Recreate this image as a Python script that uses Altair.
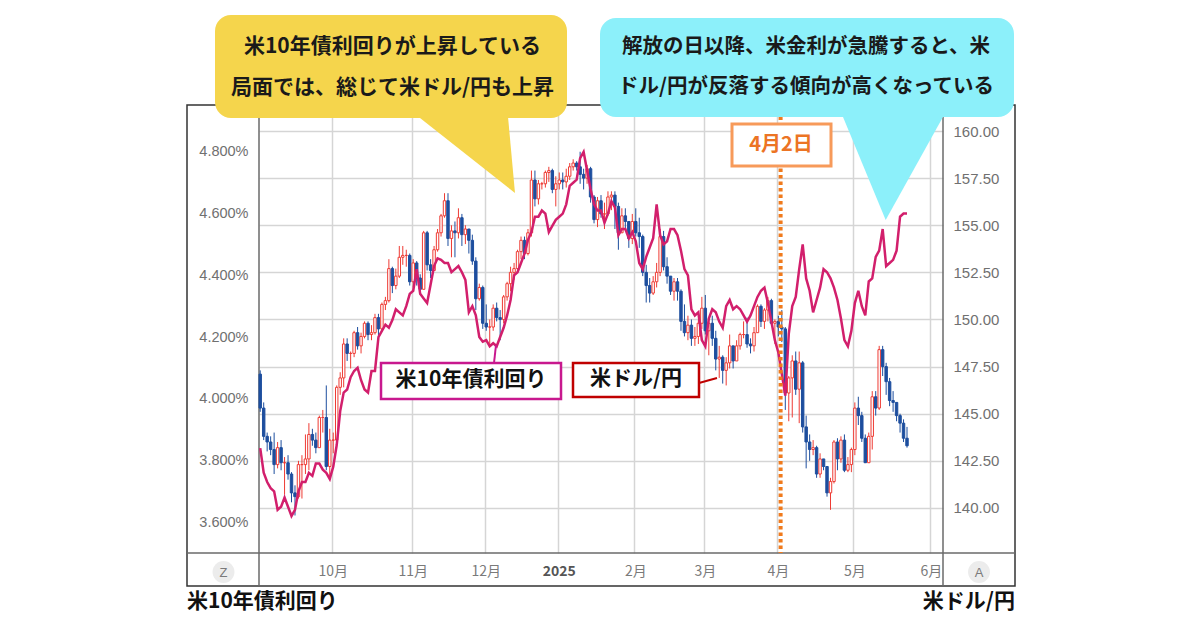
import altair as alt
import pandas as pd
import numpy as np

# ---------------- data ----------------
jpy_first_open = 147.1
jpy_close = [
    145.3, 143.8, 143.5, 143.1, 142.3, 143.2, 142.4, 142.4, 141.8, 140.8,
    140.6, 142.3, 142.3, 142.6, 143.9, 143.6, 143.2, 144.8, 144.8, 142.2,
    143.6, 143.6, 146.4, 146.9, 148.7, 148.2, 148.2, 149.3, 148.6, 149.1,
    149.8, 149.2, 149.3, 150.1, 149.5, 150.8, 151.0, 152.7, 151.8, 152.3,
    153.3, 153.4, 153.4, 152.0, 153.0, 152.2, 151.6, 154.6, 152.9, 152.6,
    153.7, 154.6, 155.5, 156.3, 154.3, 154.7, 154.6, 155.4, 154.5, 154.8,
    154.2, 153.1, 151.1, 151.7, 149.8, 149.6, 149.6, 150.6, 150.1, 150.0,
    151.2, 151.9, 152.5, 152.7, 153.6, 154.2, 153.5, 154.6, 157.4, 156.4,
    157.2, 157.2, 157.8, 157.9, 156.9, 157.2, 157.4, 157.3, 157.6, 158.1,
    158.3, 158.1, 157.7, 157.5, 158.0, 156.5, 155.3, 156.3, 155.6, 155.6,
    156.5, 156.6, 156.0, 154.6, 155.5, 155.2, 154.3, 155.2, 154.6, 154.4,
    152.5, 151.8, 151.4, 152.0, 152.5, 154.4, 152.8, 152.3, 151.5, 152.0,
    151.5, 149.9, 149.3, 149.7, 149.0, 149.1, 149.8, 150.6, 149.4, 149.8,
    149.0, 147.9, 148.0, 147.3, 147.7, 148.6, 147.8, 148.6, 149.2, 149.2,
    148.7, 148.6, 149.3, 150.7, 149.9, 150.5, 151.0, 149.8, 149.9, 149.6,
    149.5, 146.1, 146.9, 147.8, 146.3, 147.7, 144.3, 143.5, 143.1, 143.2,
    141.8, 142.6, 142.2, 140.8, 141.4, 143.5, 142.6, 143.6, 142.0, 142.3,
    143.1, 145.3, 144.9, 143.7, 142.4, 143.8, 145.9, 145.3, 148.4, 147.5,
    146.7, 145.7, 145.6, 144.9, 144.5, 143.7, 143.3,
]
jpy_high = [
    147.3, 145.6, 144.0, 143.8, 144.0, 143.5, 143.6, 142.7, 142.8, 141.9,
    141.2, 142.5, 142.8, 143.9, 144.5, 144.2, 144.0, 144.9, 145.2, 146.5,
    144.2, 144.0, 146.5, 147.2, 149.0, 149.0, 148.3, 149.4, 149.6, 149.3,
    149.9, 149.9, 149.7, 150.3, 150.3, 150.9, 151.2, 153.2, 152.8, 152.7,
    153.9, 153.9, 153.7, 153.5, 153.2, 153.1, 152.4, 154.7, 154.7, 153.2,
    153.9, 154.8, 155.6, 156.7, 156.7, 155.0, 155.2, 155.9, 155.6, 155.0,
    154.8, 154.5, 153.3, 151.9, 151.8, 150.8, 150.0, 150.8, 150.9, 150.5,
    151.3, 152.0, 152.8, 153.0, 153.7, 154.4, 154.4, 154.8, 157.9, 157.9,
    157.4, 157.3, 157.9, 158.1, 158.0, 157.6, 157.8, 157.8, 158.0, 158.3,
    158.5, 158.4, 158.9, 158.0, 158.2, 158.1, 156.6, 156.5, 156.6, 156.2,
    156.8, 156.8, 156.8, 156.2, 155.9, 155.9, 155.2, 155.6, 155.9, 155.4,
    154.5, 152.9, 152.2, 152.3, 153.0, 154.8, 154.7, 153.3, 152.3, 152.2,
    152.2, 151.6, 150.8, 150.2, 150.0, 149.6, 150.0, 151.2, 151.3, 150.0,
    150.2, 149.4, 148.6, 148.1, 148.0, 149.2, 148.6, 148.9, 149.3, 149.9,
    150.1, 149.0, 149.6, 150.8, 150.8, 150.6, 151.2, 151.1, 150.0, 150.2,
    150.5, 149.6, 147.0, 148.1, 148.3, 148.3, 147.8, 144.9, 143.9, 143.6,
    143.3, 142.9, 142.6, 142.2, 141.6, 143.6, 143.7, 143.8, 143.9, 142.7,
    143.2, 145.6, 145.9, 145.1, 143.9, 144.0, 146.2, 146.2, 148.6, 148.6,
    147.7, 146.9, 146.2, 145.6, 145.0, 144.7, 144.3,
]
jpy_low = [
    145.1, 143.6, 143.0, 142.8, 141.8, 142.1, 142.0, 140.7, 141.5, 140.3,
    139.6, 140.5, 140.5, 141.8, 142.0, 143.3, 142.9, 143.2, 144.0, 142.0,
    141.7, 142.9, 143.4, 146.0, 146.4, 147.8, 147.4, 148.0, 148.4, 148.2,
    149.0, 148.9, 148.9, 149.2, 149.1, 149.4, 150.5, 150.9, 151.4, 151.6,
    152.2, 152.9, 152.8, 151.8, 151.7, 151.8, 151.3, 151.6, 152.6, 152.2,
    152.6, 153.6, 154.4, 155.4, 153.9, 153.3, 153.3, 154.3, 153.9, 154.0,
    153.5, 152.9, 150.5, 151.0, 149.5, 149.4, 148.6, 149.4, 149.9, 148.9,
    149.8, 151.0, 151.5, 152.1, 152.5, 153.2, 153.2, 153.4, 154.4, 156.0,
    156.1, 156.9, 157.0, 157.3, 156.7, 156.0, 156.9, 156.9, 157.0, 157.4,
    157.9, 157.9, 157.2, 156.9, 157.2, 156.2, 155.1, 154.9, 155.4, 154.8,
    155.5, 155.8, 154.8, 153.7, 154.6, 154.8, 153.8, 154.0, 154.4, 153.8,
    152.3, 150.9, 150.9, 151.3, 151.7, 152.3, 152.6, 151.9, 151.3, 151.0,
    151.0, 149.4, 149.1, 148.9, 148.6, 148.6, 148.7, 149.5, 149.2, 148.1,
    148.6, 147.3, 146.9, 146.6, 146.5, 147.4, 147.4, 147.8, 148.4, 149.0,
    148.5, 148.2, 148.3, 149.3, 149.6, 149.5, 149.9, 149.7, 148.7, 149.1,
    148.8, 145.2, 144.6, 144.8, 146.0, 144.5, 144.0, 142.1, 142.5, 142.8,
    141.6, 141.6, 142.0, 140.6, 139.9, 141.3, 142.0, 142.4, 141.9, 141.9,
    141.9, 142.8, 144.4, 143.5, 142.4, 142.4, 143.1, 144.9, 145.2, 147.0,
    146.0, 145.4, 145.1, 144.6, 144.0, 143.5, 143.2,
]
us10y_yield = [
    3.84, 3.76, 3.73, 3.71, 3.70, 3.64, 3.65, 3.68, 3.65, 3.62,
    3.64, 3.70, 3.73, 3.73, 3.76, 3.75, 3.79, 3.79, 3.77, 3.76,
    3.74, 3.78, 3.85, 3.96, 4.02, 4.03, 4.07, 4.09, 4.10, 4.06,
    4.03, 4.02, 4.09, 4.09, 4.20, 4.22, 4.24, 4.23, 4.255, 4.29,
    4.28, 4.27, 4.30, 4.34, 4.35, 4.42, 4.34, 4.325, 4.31, 4.37,
    4.43, 4.455, 4.45, 4.44, 4.44, 4.41, 4.42, 4.43, 4.41, 4.385,
    4.28, 4.30, 4.27, 4.20, 4.185, 4.19, 4.17, 4.18, 4.17, 4.20,
    4.23, 4.27, 4.32, 4.40, 4.41, 4.44, 4.47, 4.515, 4.54, 4.59,
    4.59, 4.61, 4.60, 4.54, 4.56, 4.58, 4.59, 4.60, 4.63, 4.69,
    4.70, 4.71, 4.78, 4.80, 4.74, 4.68, 4.63, 4.61, 4.61, 4.57,
    4.60, 4.64, 4.62, 4.53, 4.55, 4.55, 4.52, 4.54, 4.51, 4.44,
    4.42, 4.46, 4.49, 4.52, 4.63, 4.53, 4.50, 4.51, 4.55, 4.55,
    4.53, 4.48, 4.42, 4.40, 4.29, 4.27, 4.28, 4.19, 4.17, 4.26,
    4.29, 4.28, 4.25, 4.23, 4.30, 4.32, 4.29, 4.30, 4.29, 4.27,
    4.25, 4.27, 4.30, 4.33, 4.35, 4.36, 4.31, 4.25, 4.19, 4.15,
    4.08, 4.01, 4.21, 4.30, 4.33, 4.42, 4.50, 4.39, 4.35, 4.28,
    4.32, 4.36, 4.42, 4.41, 4.39, 4.36, 4.32, 4.26, 4.19, 4.17,
    4.22, 4.31, 4.35, 4.30, 4.27, 4.38, 4.39, 4.46, 4.48, 4.55,
    4.43, 4.44, 4.45, 4.48, 4.59, 4.60, 4.60,
]
yield_ticks = [3.6, 3.8, 4.0, 4.2, 4.4, 4.6, 4.8]
jpy_ticks = [140, 142.5, 145, 147.5, 150, 152.5, 155, 157.5, 160]
holidays = ["2024-12-25", "2025-01-01"]
event_day = ["2025-04-02"]

bubble_yellow = ["米10年債利回りが上昇している", "局面では、総じて米ドル/円も上昇"]
bubble_cyan = ["解放の日以降、米金利が急騰すると、米", "ドル/円が反落する傾向が高くなっている"]

# ---------------- tables ----------------
all_days = [d.strftime("%Y-%m-%d") for d in pd.bdate_range("2024-09-02", "2025-06-05")]
all_days = [d for d in all_days if d not in holidays]
data_days = all_days[:len(jpy_close)]
month_starts = []
seen = set()
for d in all_days:
    if d[:7] not in seen:
        seen.add(d[:7])
        if d >= "2024-10-01":
            month_starts.append(d)

opens = [jpy_first_open] + jpy_close[:-1]
jpy_df = pd.DataFrame({
    "date": data_days,
    "open": opens,
    "close": jpy_close,
    "high": [max(h, o, c) for h, o, c in zip(jpy_high, opens, jpy_close)],
    "low": [min(l, o, c) for l, o, c in zip(jpy_low, opens, jpy_close)],
})
jpy_df["dir"] = np.where(jpy_df["close"] >= jpy_df["open"], "up", "down")
yield_df = pd.DataFrame({"date": data_days, "yield": us10y_yield})
event_df = pd.DataFrame({"date": event_day})
one = pd.DataFrame({"k": [0]})

# ---------------- style ----------------
RED, BLUE, LINE = "#ee3b34", "#1d4e9e", "#d21f6c"
ORANGE = "#f07a1c"
GRID = "#d5d5d5"
JP = "Noto Sans CJK JP"
X0, Y0 = 259, 105      # plot-area origin on the page
W, H = 684, 448

x_scale = alt.Scale(type="band", domain=all_days, paddingInner=0.3, paddingOuter=0)
x_axis = alt.Axis(
    values=month_starts, bandPosition=0, title=None,
    labelExpr="substring(datum.value,5,7)=='01' ? '2025' : toNumber(substring(datum.value,5,7)) + '月'",
    grid=True, gridColor=GRID, gridWidth=1.5, ticks=False, domain=False,
    labelPadding=11, labelFont=JP, labelFontSize=14, labelAngle=0,
    labelColor={"condition": {"test": "substring(datum.value,5,7)=='01'", "value": "#555555"}, "value": "#7a7a7a"},
    labelFontWeight={"condition": {"test": "substring(datum.value,5,7)=='01'", "value": "bold"}, "value": "normal"},
)
X = alt.X("date:O", scale=x_scale, axis=x_axis)

jpy_scale = alt.Scale(domain=[137.61, 161.38], nice=False, zero=False)
jpy_axis = alt.Axis(orient="right", values=jpy_ticks, format=".2f", title=None,
                    grid=True, gridColor=GRID, gridWidth=1.5, ticks=False, domain=False,
                    labelPadding=10, labelFont="Liberation Sans", labelFontSize=15, labelColor="#707070")
yield_scale = alt.Scale(domain=[3.5, 4.952], nice=False, zero=False)
yield_axis = alt.Axis(orient="left", values=yield_ticks, title=None,
                      labelExpr="format(datum.value, '.3f') + '%'",
                      grid=False, ticks=False, domain=False,
                      labelPadding=11, labelFont="Liberation Sans", labelFontSize=14.5, labelColor="#707070")

stroke_scale = alt.Scale(domain=["up", "down"], range=[RED, BLUE])
fill_scale = alt.Scale(domain=["up", "down"], range=["#ffffff", BLUE])


def px(x):
    return alt.value(x - X0)


def py(y):
    return alt.value(y - Y0)


def rect(x1, y1, x2, y2, **kw):
    return alt.Chart(one).mark_rect(**kw).encode(x=px(x1), x2=px(x2), y=py(y1), y2=py(y2))


def seg(x1, y1, x2, y2, **kw):
    return alt.Chart(one).mark_rule(**kw).encode(x=px(x1), x2=px(x2), y=py(y1), y2=py(y2))


def txt(s, x, y, **kw):
    return alt.Chart(one).mark_text(text=s, baseline="middle", **kw).encode(x=px(x), y=py(y))


def tri(path, cx, cy, size, color):
    return alt.Chart(one).mark_point(shape=path, size=size, filled=True, color=color,
                                     opacity=1, strokeWidth=0).encode(x=px(cx), y=py(cy))


# ---------------- frame & axis lines ----------------
frame = rect(187, 105, 1015, 586, fill="#ffffff", fillOpacity=0, stroke="#333333", strokeWidth=1.5)
axis_lines = [
    seg(187, 553, 1015, 553, color="#6a6a6a", strokeWidth=1.5),
    seg(259, 105, 259, 586, color="#6a6a6a", strokeWidth=1.5),
    seg(943, 105, 943, 586, color="#6a6a6a", strokeWidth=1.5),
]

# ---------------- data layers ----------------
wicks = alt.Chart(jpy_df).mark_rule(strokeWidth=1).encode(
    x=X,
    y=alt.Y("low:Q", scale=jpy_scale, axis=jpy_axis),
    y2="high:Q",
    stroke=alt.Stroke("dir:N", scale=stroke_scale, legend=None),
)
bodies = alt.Chart(jpy_df).mark_bar(strokeWidth=1).encode(
    x=X,
    y=alt.Y("open:Q", scale=jpy_scale, axis=jpy_axis),
    y2="close:Q",
    fill=alt.Fill("dir:N", scale=fill_scale, legend=None),
    stroke=alt.Stroke("dir:N", scale=stroke_scale, legend=None),
)
jpy = alt.layer(wicks, bodies)

yline = alt.Chart(yield_df).mark_line(color=LINE, strokeWidth=2.5).encode(
    x=X, y=alt.Y("yield:Q", scale=yield_scale, axis=yield_axis)
)

event_rule = alt.Chart(event_df).mark_rule(color=ORANGE, strokeWidth=4, strokeDash=[3.5, 3]).encode(
    x=alt.X("date:O", scale=x_scale, axis=x_axis, bandPosition=0),
    y=alt.value(5), y2=alt.value(H),
)

# ---------------- annotations ----------------
event_box = rect(732, 124, 831, 166, fill="#ffffff", stroke="#f79a5a", strokeWidth=3)
event_txt = txt("4月2日", 781, 145, font=JP, fontSize=20, fontWeight="bold", color="#ec7424", align="center")

y_conn = seg(494, 363, 496, 345, color="#c8188e", strokeWidth=2)
y_box = rect(381, 363, 561, 399, fill="#ffffff", stroke="#c8188e", strokeWidth=2.5)
y_txt = txt("米10年債利回り", 471, 380, font=JP, fontSize=21, fontWeight="bold", color="#111111", align="center")

j_conn = seg(699, 383, 717, 378, color="#c00000", strokeWidth=2)
j_box = rect(573, 363, 699, 397, fill="#ffffff", stroke="#c00000", strokeWidth=2.5)
j_txt = txt("米ドル/円", 636, 379, font=JP, fontSize=21, fontWeight="bold", color="#111111", align="center")

YELLOW, CYAN = "#f5d54c", "#8cf0fa"
yb = rect(215, 15, 567, 118, fill=YELLOW, cornerRadius=16)
yt = tri("M-0.967,-0.764L0.827,-0.764L0.967,0.764Z", 202.8 + X0, 46 + Y0, 12100, YELLOW)
yb1 = txt(bubble_yellow[0], 392.5, 46.5, font=JP, fontSize=21, fontWeight="bold", color="#1a1a1a", align="center")
yb2 = txt(bubble_yellow[1], 392.5, 88, font=JP, fontSize=21, fontWeight="bold", color="#1a1a1a", align="center")

cb = rect(600, 18, 1014, 117, fill=CYAN, cornerRadius=16)
ct = tri("M-0.8975,-0.925L0.8975,-0.925L-0.131,0.925Z", 634.55 + X0, 59.5 + Y0, 14400, CYAN)
cb1 = txt(bubble_cyan[0], 806, 46.5, font=JP, fontSize=20.5, fontWeight="bold", color="#1a1a1a", align="center")
cb2 = txt(bubble_cyan[1], 806, 86.5, font=JP, fontSize=20.5, fontWeight="bold", color="#1a1a1a", align="center")

z_dot = alt.Chart(one).mark_point(shape="circle", filled=True, size=480, color="#ececec", opacity=1).encode(x=px(223.5), y=py(572))
z_txt = txt("Z", 223.5, 572.5, font="Liberation Sans", fontSize=13, color="#7a7a7a", align="center")
a_dot = alt.Chart(one).mark_point(shape="circle", filled=True, size=480, color="#ececec", opacity=1).encode(x=px(979), y=py(572))
a_txt = txt("A", 979, 572.5, font="Liberation Sans", fontSize=13, color="#7a7a7a", align="center")

bottom_left = txt("米10年債利回り", 187, 602, font=JP, fontSize=21, fontWeight="bold", color="#111111", align="left")
bottom_right = txt("米ドル/円", 1015, 602, font=JP, fontSize=21, fontWeight="bold", color="#111111", align="right")

chart = alt.layer(
    frame, *axis_lines,
    jpy, yline, event_rule,
    event_box, event_txt,
    y_conn, y_box, y_txt, j_conn, j_box, j_txt,
    yt, yb, yb1, yb2, ct, cb, cb1, cb2,
    z_dot, z_txt, a_dot, a_txt, bottom_left, bottom_right,
).resolve_scale(
    y="independent"
).properties(
    width=W, height=H,
    autosize=alt.AutoSizeParams(type="none"),
    padding={"left": 251, "top": 97, "right": 249, "bottom": 69},
    background="#ffffff",
).configure_view(strokeWidth=0)

chart.save("out.html", embed_options={"renderer": "svg", "actions": False})
